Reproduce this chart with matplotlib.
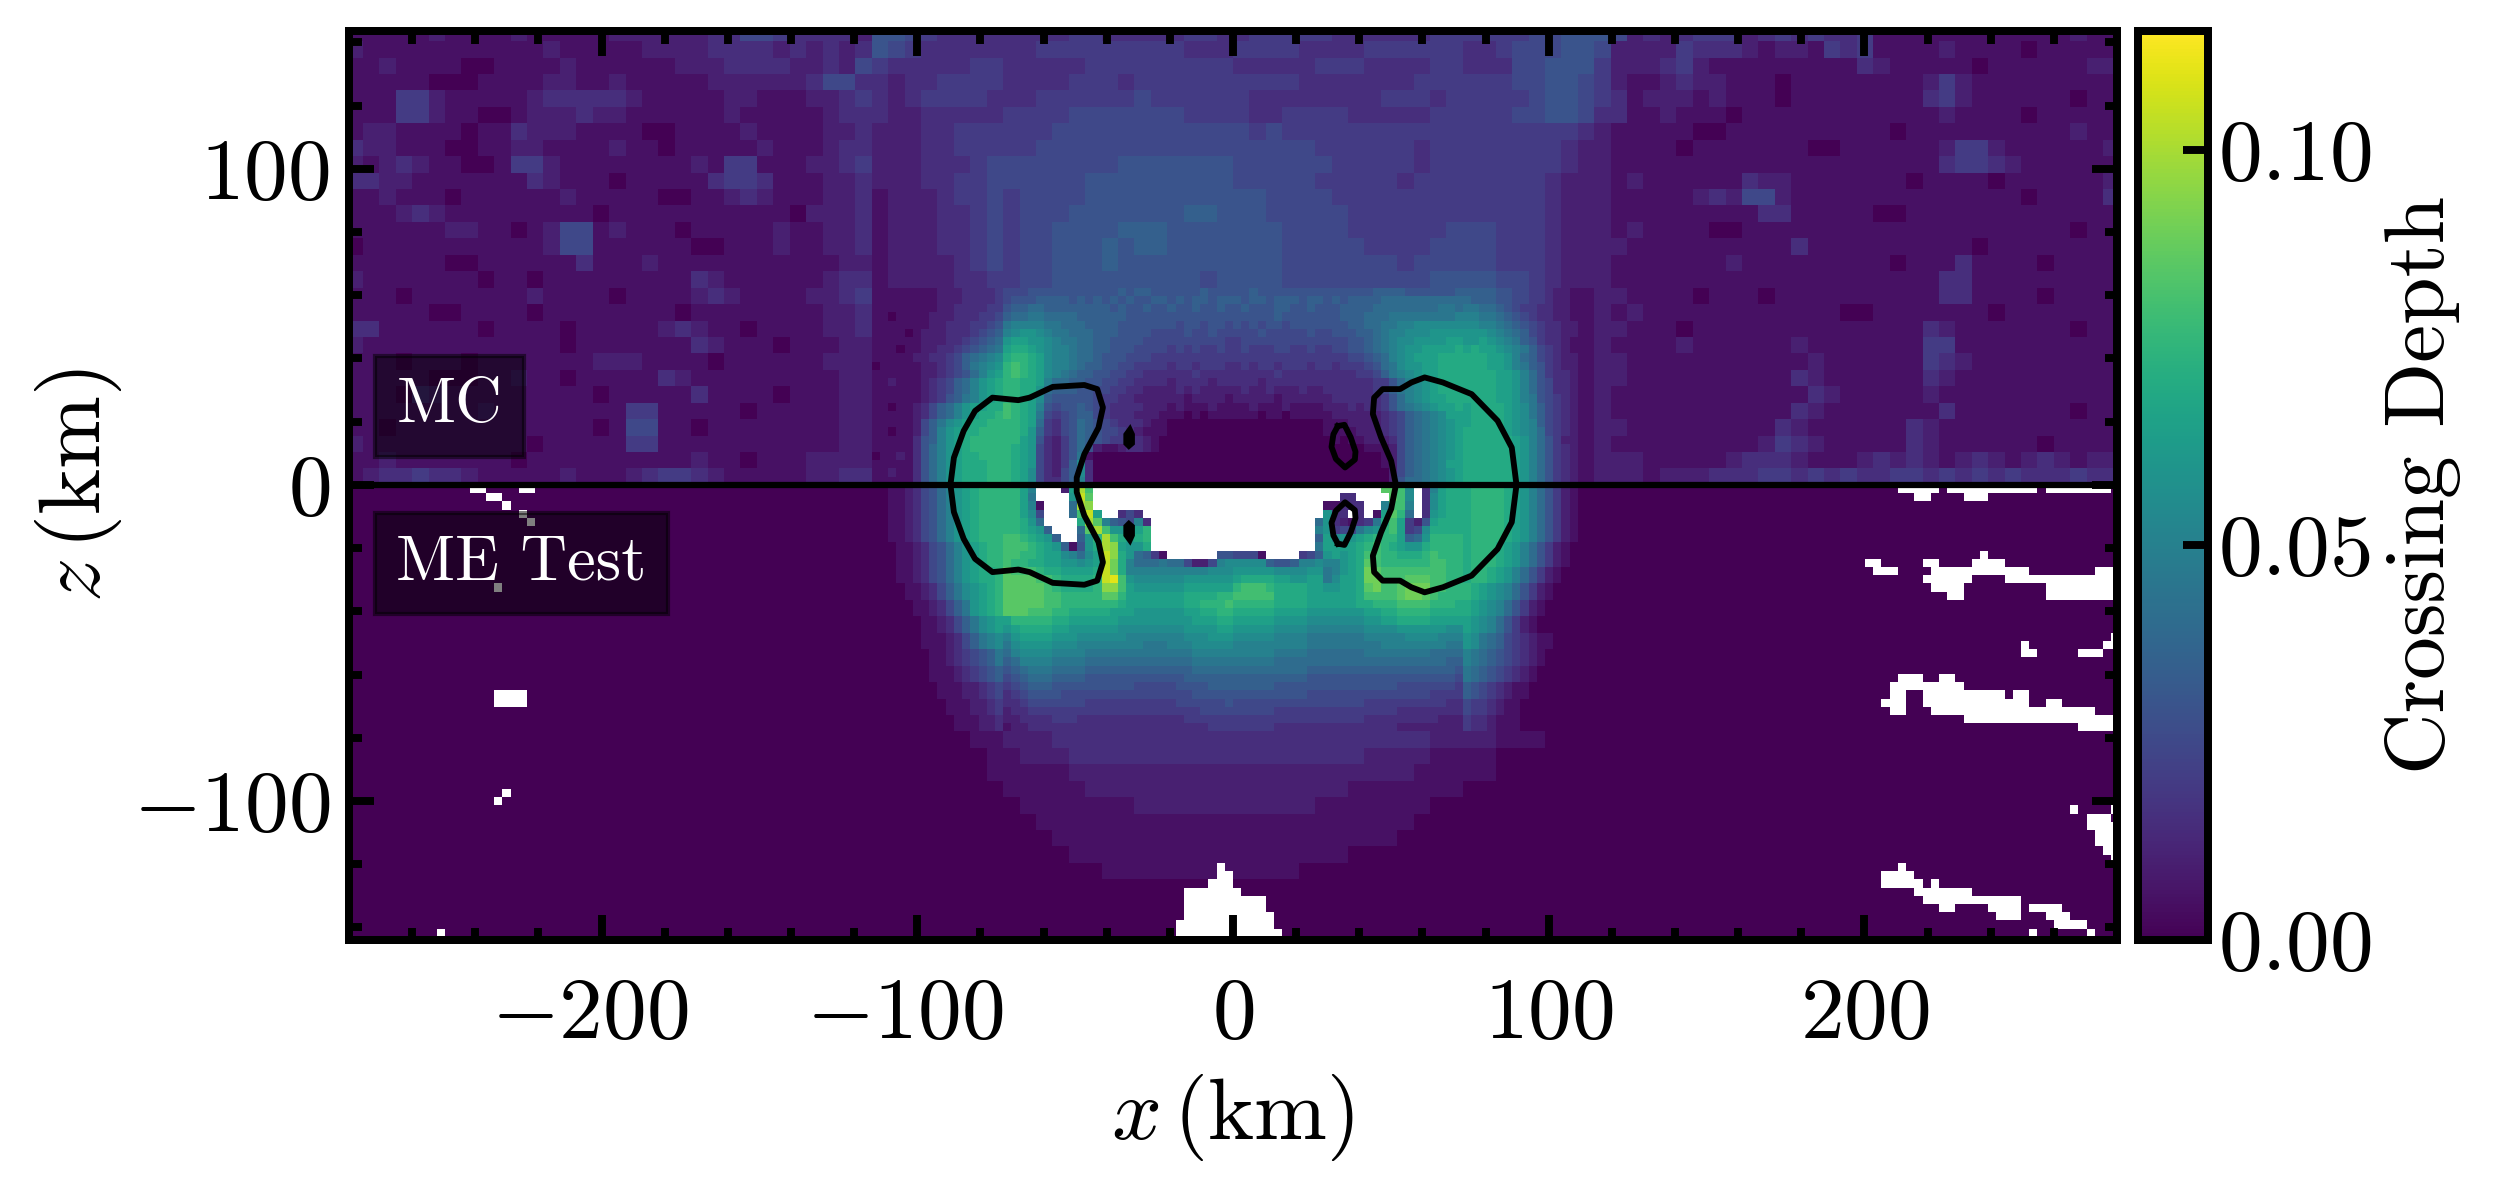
import matplotlib
matplotlib.use("Agg")
import matplotlib.pyplot as plt
from matplotlib.transforms import ScaledTranslation
import numpy as np

plt.rcParams['font.family'] = ['cmr10', 'DejaVu Sans']
plt.rcParams['mathtext.fontset'] = 'cm'
plt.rcParams['axes.unicode_minus'] = False

# tick labels
x_ticks = [-200, -100, 0, 100, 200]
x_tick_labels = [r"$-200$", r"$-100$", r"$0$", r"$100$", r"$200$"]
z_ticks = [-100, 0, 100]
z_tick_labels = [r"$-100$", r"$0$", r"$100$"]
cbar_ticks = [0.0, 0.05, 0.10]
cbar_tick_labels = [r"$0.00$", r"$0.05$", r"$0.10$"]

# one character per cell: step of 0.005 per level, '.' = no data
LEVELS = "0123456789abcdefghijklmn"
LEVEL_STEP = 0.005

# MC half, 2x2 cell blocks, top row first: (left, middle, right)
mc_blocks = [
    ("11111211" "11211111" "22222233" "55433332", "66543333" "33334433" "33344334" "44443333" "33444444" "5566", "65232344" "42343433" "41111111" "11111211"),
    ("21111111" "11112111" "11222233" "33232323", "65433333" "33444444" "44433344" "44333344" "44443345" "5566", "52222433" "32122143" "41111211" "11011111"),
    ("11211110" "01111211" "11112223" "33322325", "43333344" "33333444" "44444433" "33344433" "33443335" "5666", "42223421" "11111111" "32111110" "11111122"),
    ("11111000" "11112211" "21111122" "22223553", "32334444" "33334443" "44444444" "44333333" "34444445" "5665", "42112322" "11101111" "11112421" "11111111"),
    ("11144211" "11123333" "32111112" "21112234", "32344443" "33444444" "54444443" "33333334" "44344444" "5665", "43122212" "11101111" "11113421" "11111011"),
    ("11144211" "00122232" "21111112" "11111233", "32233333" "44445555" "55544443" "34444333" "33444445" "5665", "33112111" "01111111" "11111211" "11011111"),
    ("12211110" "11322211" "11001111" "21111223", "22233444" "44455555" "55555554" "54444444" "44444444" "4443", "21111100" "11111111" "11011111" "11111211"),
    ("32211100" "11221111" "21101111" "12111233", "22233444" "44555555" "55555555" "55544444" "43444444" "4432", "21111011" "11111001" "11111244" "21111112"),
    ("21232110" "01442111" "11111214" "41112234", "22233345" "55555556" "66666655" "55554444" "43444444" "4432", "21111111" "11111111" "11111344" "32111111"),
    ("33221111" "11132111" "01111134" "43111223", "22233445" "55555666" "66666655" "55544444" "34444444" "4322", "21211111" "13221111" "11101111" "01111112"),
    ("11211101" "11111211" "11100112" "32111223", "12223445" "45555666" "66666666" "55554444" "44444444" "4322", "21111123" "25521111" "11111111" "11011113"),
    ("11123211" "11111110" "11111111" "11102223", "12223345" "45556666" "66677666" "55555444" "44444444" "4322", "21111111" "11331111" "10011111" "11111111"),
    ("11111122" "11012551" "21110111" "11211223", "12223345" "45566667" "77666666" "65555444" "44455544" "4322", "21211110" "01111111" "11111111" "11111011"),
    ("01111111" "11112551" "11111001" "11211223", "12223345" "45566676" "77666666" "65555544" "44555544" "4322", "22111111" "11113111" "11111110" "11111111"),
    ("11111100" "11111131" "11211111" "11111122", "12222345" "45566676" "66666666" "65555555" "45555544" "4322", "21111111" "21111111" "11011131" "11101111"),
    ("21111111" "01101111" "11111321" "11111233", "12222334" "45566666" "66665666" "65555555" "55666655" "4322", "21111111" "11111111" "11111331" "11111111"),
    ("11101111" "11121111" "01111232" "11112234", "", "22111101" "11011111" "11111331" "11101111"),
    ("11111001" "11101111" "11110111" "11111223", "", "21211111" "11111110" "01111111" "01111111"),
    ("33111111" "01111011" "11123211" "01111223", "", "22111011" "11111111" "11113211" "11111011"),
    ("21111111" "11111011" "11111321" "11011122", "", "21111211" "11112111" "11114411" "11111111"),
    ("11101110" "11111112" "22111101" "11111222", "", "22111111" "11111211" "11114321" "11111111"),
    ("11111000" "11211011" "11132111" "11111122", "", "22111111" "11113211" "11113211" "11111111"),
    ("11103211" "11111110" "11111311" "11011122", "", "21111111" "11111321" "11112111" "11111111"),
    ("11111111" "21111111" "14411111" "01111122", "", "21111111" "11113211" "11111311" "11111011"),
    ("11011111" "11111110" "15511011" "11111122", "", "22111111" "11132111" "11132111" "11111111"),
    ("21111111" "11101111" "14411111" "11111122", "", "21111111" "11243211" "11132111" "11101111"),
    ("11211111" "11011111" "11111211" "01112222", "", "22211111" "23332111" "23232123" "21232122"),
    ("12334332" "11111211" "12344321" "11112233", "", "22212223" "33443434" "33443434" "34333433"),
]

# MC core, single cells, row just above z=0 first: (outer left, inner left, inner right, outer right)
mc_core = [
    ("11111368acdeeeff", "fedb53357a3" + "0"*17, "0"*19 + "26889abcd", "eeeeeedca8643211"),
    ("11211368acdeeeff", "fedb53257b3" + "0"*17, "0"*19 + "25789abcd", "eeeeeedca8643211"),
    ("11111368acdeeeff", "fedc53247b3" + "0"*17, "0"*18 + "125789abdd", "eeeeeedca8643211"),
    ("01121368acdeefff", "fedc5324691" + "0"*17, "0"*18 + "125789abcd", "eeeeeedca8643211"),
    ("11111368acdeffff", "fedc5324686" "21123321" + "0"*9, "0"*16 + "11125789abcd", "eeeeeedca8643211"),
    ("11111367acdeffff", "ffdc6324687" "65444321" + "0"*9, "0"*12 + "101122235789abcd", "eeeeeedca8642211"),
    ("11011257acdeefff", "ffec7435687" "65543211" "1" + "0"*8, "0"*11 + "1111222345789abcd", "eeeeedcba8543211"),
    ("111112579bcdeeff", "ffed8435687" "65433321" "1" + "0"*8, "0"*11 + "1112222345789abcd", "deeeedcba7543211"),
    ("1111123578acdeef", "gfed9545677" "54333222" "111010111", "11101101111" "1222222345789abdd", "deeeedcb97543211"),
    ("1101123578acddee", "gfeda656676" "54333322" "212111211", "11211121111" "22232334689abcdde", "deeeedcb97543211"),
    ("111111234679acde", "ffedb766666" "54433222" "222122221", "22222122222" "2333333468abcddee", "eeeeddca96543211"),
    ("111111234578acde", "ffeec877766" "55443322" "223232222", "23223222322" "3333334579abcdeee", "eeeeddca86533211"),
    ("112111234578acde", "ffeeda88776" "65544333" "323333233", "33323333333" "3333334468abcdeee", "eeeeddca86533211"),
    ("1111112234568acd", "fgfedba9877" "66554433" "333343333", "33333433333" "333344579abcddeee", "eeeeddca86433211"),
    ("0111112234579abc", "fgfedbaa987" "76655444" "434434443", "34344344434" "434445689bccddeee", "eeeddca976432211"),
    ("11111223345789ab", "effedbaa988" "76665554" "444444444", "44444444444" "44455678abcdddeee", "eeeddca875432211"),
    ("1110112233456789", "deedcbaa988" "77666555" "545454454", "45444554454" "45566789abccdddde", "deddcba975432111"),
    ("1111112223345678", "cddccba9988" "77666655" "555555554", "45555555555" "55566789abbccccdd", "ccdcba9764332111"),
    ("1111012223334567", "abccba99888" "77766665" "555655655", "55565555565" "56667789aabbbcccc", "cccba98754332211"),
    ("1111111223334456", "9aaaa998887" "77766666" "665665665", "65656656666" "666778899aabbbbbb", "bbaa987654332211"),
    ("1101111222333445", "78899888877" "77776666" "666666666", "66666766666" "6677788899999999a", "aa99876543322111"),
    ("1111111122333344", "67788777777" "77676676" "676676676", "67666776676" "66777788888888998", "9988765443322111"),
    ("1111111122233334", "56667777676" "76767667" "767677677", "76776777677" "67677778888888888", "8777665544322111"),
    ("1111111122233334", "55566666666" "66676776" "666667666", "66766666666" "66666677776666667", "7777665544322111"),
]

# ME Test core, single cells, row just below z=0 first
me_core = [
    ("001123568acdefff", "ffda...2dkg" + "."*17, "."*18 + "hhgb.3adee", "effffedca8642100"),
    ("001123568acdefff", "ffd9....clh" + "."*17, "."*13 + "33....hgb.3bdee", "effffedca8642100"),
    ("001123568acdefff", "ffda1...8kj" + "."*17, "..........." "11333..agga.3bdee", "effffedca8642100"),
    ("001123568acdefff", "ffdb5...8gld..353" + "."*11, "..........." "c33.3.1dhf8.3cdee", "effffedca8642100"),
    ("001123568acdefff", "ffec8....ekha765a3" + "."*10, ".........." "8c321349egd426deee", "effffedca8642100"),
    ("001123568acdefff", "ffedc7...8hkgccddf" + "."*10, ".........." "ac4559bcfgd45beeee", "effffedca8642100"),
    ("001123568acdefff", "ggfedc7..7cfkgedef" + "."*10, ".........." "7dbccdefffd78cffff", "effffedca8642100"),
    ("0001123568acdeff", "gggfedc716cekjdcce" + "."*10, ".........." "9ddddefgfedcceffff", "efffedca86421000"),
    ("0001123568acdeff", "ggffeddba8bdljec8741......66", "5551....457cdcdeggffeeefgfff", "efffedca86421000"),
    ("0001123568acdeff", "gffeeddccbcdliea8889885225ab", "bbbb7667aabaacdehgffffffggff", "efffedca86421000"),
    ("0001123568acdeef", "hgggfeeddddelieaaaaaaaaaabbb", "cccccbbbbcc9acdeihggggggggff", "effedca864210000"),
    ("0001123568acdeef", "hhhhggfeeeeflmgcbbbbbbcccccc", "deeeeddccdd9bddeiiggghhhggff", "effedca864210000"),
    ("00001123579bcdef", "hhhhhgfeeeefjjgdccccccdddddd", "fgggfeeeeddccddehigghiiiggff", "fedcba8642100000"),
    ("00001123579bcdef", "hhhhhggfffffhhfdddddddeeeeff", "gggggeeeeddddddeggggh" "iihgfff", "fedcba8642100000"),
    ("000001123579cdef", "hhhhhggfffffffedddddddeefffg", "fffffeeeedddddde" "efffggggfffe", "edcba86421000000"),
    ("000001123579cdef", "hhhgggffeeeeeddd" "cccccc" "ddeeff", "eeeeeddddccccccc" "ddeeffffeeee", "edcba86421000000"),
    ("0000001123579bcd", "dfffffeeddddddcc" "cccccc" "cdddee", "dddddccccbbbbbbb" "ccddeeeedddd", "dcba864210000000"),
    ("0000001123579bcd", "cdeeeeddccccccbb" "bbbbbb" "ccccdd", "cccccbbbbaaaaaaa" "bbbbccccccb", "dcba864210000000"),
    ("00000011123579ab", "acddddcccbbbbbba" "aaaaaa" "bbbccc", "bbbbbaaaa9999999" "aaaaabbbbaaa", "cb98754321100000"),
    ("00000011123579ab", "9bccccbbbaaaaaaa" "a999aa" "abbbbb", "aaaaaaaaa9999999" "99aaaaaaaa99", "cb98754321100000"),
    ("0000000112345679", "8abbbbaaaa999999" "999999" "9aaaaa", "aaaaa99998888888" "999999998888", "a987654321000000"),
    ("0000000112345679", "78aaaa9999888888" "888888" "899999", "9999988888888888" "888888888877", "a987654321000000"),
    ("0000000111234567", "6789998888777777" "777777" "788888", "8888888887777777" "777777777776", "9876543210000000"),
    ("0000000111234567", "5678887777666666" "666666" "777777", "7777777776666666" "666666666665", "9876543210000000"),
    ("0000000011122345", "4567776666666666" "555556" "666777", "7777766666666666" "666655555554", "7654321100000000"),
    ("0000000011122345", "3456666555555555" "555555" "566666", "6666666665555555" "555555554444", "7654321100000000"),
    ("0000000001112234", "3345555555444444" "444445" "555556", "5555555555555555" "444444444433", "5443211000000000"),
    ("0000000001112234", "2334444444444444" "444444" "445555", "5555544444444444" "444433333333", "5443211000000000"),
    ("0000000000111223", "2233334443333333" "333333" "444444", "4444444444444444" "333333333222", "4332111000000000"),
    ("0000000000111223", "1223333333333333" "333333" "333444", "4444433333333333" "333322222222", "4332111000000000"),
]

# ME Test faint glow under the core, 2x2 cell blocks, centred
me_glow = [
    "00000011" "22233333" "33333333" "33333333" "33222211" "1000",
    "00000001" "12223333" "33333333" "33333322" "22111100" "0000",
    "00000001" "11112222" "22222222" "22222222" "21111100" "0000",
    "00000000" "11111222" "22222222" "22222111" "11110000" "0000",
    "00000000" "01111111" "22222222" "22211111" "11000000" "0000",
    "00000000" "00111111" "11111111" "11111111" "10000000" "0000",
    "00000000" "00011111" "11111111" "11111111" "00000000" "0000",
    "00000000" "00001111" "11111111" "11111000" "00000000" "0000",
    "00000000" "00000011" "11111111" "11000000" "00000000" "0000",
]

# ME Test cells without data away from the core: (row, first col, last col), col 0 starts at x=0
me_holes = [
    (0, -93, -92), (0, -87, -86), (1, -91, -90), (2, -89, -89), (3, -87, -87), (4, -86, -86),
    (12, -90, -90), (25, -90, -87), (26, -90, -87), (37, -89, -89), (38, -90, -90),
    (54, -97, -97),
    (46, -2, -2), (47, -2, -1), (48, -3, -1), (49, -6, 0), (50, -6, 3), (51, -6, 3),
    (52, -6, 4), (53, -7, 4), (54, -7, 5), (55, -8, 5),
    (0, 81, 85), (0, 87, 97), (0, 99, 106), (1, 83, 84), (1, 89, 91),
    (8, 91, 91), (9, 77, 78), (9, 84, 85), (9, 90, 93),
    (10, 78, 80), (10, 85, 89), (10, 90, 96), (10, 105, 107),
    (11, 84, 89), (11, 94, 107), (12, 85, 88), (12, 99, 107), (13, 87, 88), (13, 99, 107),
    (18, 107, 107), (19, 96, 96), (19, 106, 107), (20, 96, 97), (20, 103, 105),
    (23, 81, 83), (23, 86, 87), (24, 80, 88), (25, 80, 81), (25, 84, 93), (25, 95, 96),
    (26, 79, 81), (26, 84, 96), (26, 99, 100), (27, 80, 81), (27, 85, 104),
    (28, 89, 107), (29, 103, 107),
    (39, 102, 102), (39, 107, 107), (40, 104, 106), (41, 104, 107), (42, 105, 107),
    (43, 105, 107), (44, 106, 107), (45, 107, 107),
    (46, 81, 81), (47, 79, 82), (48, 79, 83), (48, 85, 85), (49, 83, 89), (50, 84, 95),
    (51, 86, 87), (51, 92, 95), (51, 97, 100), (52, 93, 95), (52, 99, 101),
    (53, 100, 103), (54, 97, 97), (54, 104, 104),
]

# contour outlines, upper half only (the shape is mirrored about z=0)
left_lobe_x = [-89.5, -88.4, -85.3, -81.7, -76.2, -68.0, -64.4, -57.1, -47.1, -43.0, -41.2, -42.6, -47.1, -49.5, -49.5]
left_lobe_z = [0, 8.6, 17.1, 23.4, 27.6, 26.8, 27.6, 31.0, 31.6, 30.3, 24.5, 18.1, 9.7, 2.3, 0]
right_lobe_x = [89.8, 88.3, 83.8, 75.6, 66.5, 60.7, 56.5, 52.9, 47.4, 44.7, 44.3, 46.9, 50.1, 51.6]
right_lobe_z = [0, 11.8, 20.3, 28.7, 32.4, 34.0, 32.4, 30.3, 30.3, 27.6, 22.4, 15.0, 7.6, 0]
ring_x = [33.2, 35.3, 37.3, 38.8, 38.6, 35.5, 32.6, 31.2, 31.8, 33.2]
ring_z = [18.6, 19.0, 15.0, 10.5, 8.0, 5.5, 8.2, 12.0, 16.0, 18.6]
dot_x = [-32.6, -31.6, -31.6, -33.0, -34.2, -34.2, -32.6]
dot_z = [18.2, 16.0, 13.0, 11.8, 13.0, 16.0, 18.2]


def decode(text):
    return [np.nan if c == '.' else LEVEL_STEP * LEVELS.index(c) for c in text]


def fit(text, width):
    return text.ljust(width, text[-1] if text else '0')[:width]


cell = 2.6
half_x = 108
half_z = 56
core_half = 44

upper = np.zeros((half_z, 2 * half_x))
lower = np.zeros((half_z, 2 * half_x))

for k, (left, mid, right) in enumerate(mc_blocks):
    row = decode(fit(left, 32) + fit(mid or '0', 44) + fit(right, 32))
    upper[2 * k:2 * k + 2] = np.repeat(row, 2)

for k, text in enumerate(me_glow):
    row = decode('0' * 32 + fit(text, 44) + '0' * 32)
    lower[30 + 2 * k:32 + 2 * k] = np.repeat(row, 2)

for i, segs in enumerate(mc_core):
    text = fit(segs[0], 16) + fit(segs[1], 28) + fit(segs[2], 28) + fit(segs[3], 16)
    upper[half_z - 1 - i, half_x - core_half:half_x + core_half] = decode(text)

for j, segs in enumerate(me_core):
    text = fit(segs[0], 16) + fit(segs[1], 28) + fit(segs[2], 28) + fit(segs[3], 16)
    lower[j, half_x - core_half:half_x + core_half] = decode(text)

for row, first, last in me_holes:
    lower[row, half_x + first:half_x + last + 1] = np.nan

depth = np.ma.masked_invalid(np.vstack([upper, lower]))
x_edges = cell * np.arange(-half_x, half_x + 1)
z_edges = cell * np.arange(half_z, -half_z - 1, -1)

W, H = 2502, 1192
fig = plt.figure(figsize=(W / 300, H / 300), dpi=300)
ax = fig.add_axes([349 / W, 1 - 940 / H, 1768 / W, 909 / H])
cax = fig.add_axes([2138 / W, 1 - 940 / H, 70 / W, 909 / H])

mesh = ax.pcolormesh(x_edges, z_edges, depth, cmap='viridis', vmin=0, vmax=0.115,
                     shading='flat', linewidth=0, antialiased=False)

ax.axhline(0, color='k', lw=1.5)
for xs, zs in [(left_lobe_x, left_lobe_z), (right_lobe_x, right_lobe_z)]:
    xs = np.array(xs)
    zs = np.array(zs)
    ax.plot(np.r_[xs, xs[::-1]], np.r_[zs, -zs[::-1]], color='k', lw=1.4)
for sign in [1, -1]:
    ax.plot(ring_x, sign * np.array(ring_z), color='k', lw=1.4)
    ax.fill(dot_x, sign * np.array(dot_z), color='k', lw=0.8)

ax.set_xlim(-280, 280)
ax.set_ylim(-144, 143.6)

ax.set_xticks(x_ticks)
ax.set_xticklabels(x_tick_labels)
ax.set_yticks(z_ticks)
ax.set_yticklabels(z_tick_labels)
ax.set_xticks(np.arange(-260, 261, 20), minor=True)
ax.set_yticks(np.arange(-140, 141, 20), minor=True)
ax.tick_params(which='major', direction='in', length=6, width=1.9, top=True, right=True, labelsize=21)
ax.tick_params(which='minor', direction='in', length=3, width=1.9, top=True, right=True)
ax.tick_params(axis='x', which='major', pad=9)
ax.tick_params(axis='y', which='major', pad=4.5)
for side in ax.spines.values():
    side.set_linewidth(1.92)

# the minus sign pushes the negative x labels off centre
shift_left = ScaledTranslation(-12 / 300, 0, fig.dpi_scale_trans)
for tick_label, value in zip(ax.get_xticklabels(), x_ticks):
    if value < 0:
        tick_label.set_transform(tick_label.get_transform() + shift_left)

ax.set_xlabel(r"$x\,(\mathrm{km})$", fontsize=21, labelpad=4)
ax.set_ylabel(r"$z\,(\mathrm{km})$", fontsize=21, labelpad=2)

box = dict(facecolor='k', edgecolor='k', alpha=0.5, boxstyle='square,pad=0.33')
ax.text(-265, 19.8, "MC", color='w', fontsize=15.5, va='baseline', bbox=box)
ax.text(-265, -29.9, "ME Test", color='w', fontsize=15.5, va='baseline', bbox=box)

cbar = fig.colorbar(mesh, cax=cax)
cbar.set_ticks(cbar_ticks)
cbar.set_ticklabels(cbar_tick_labels)
cbar.ax.tick_params(which='major', direction='in', length=6, width=1.9, labelsize=21, pad=2.5)
cbar.ax.minorticks_off()
cbar.outline.set_linewidth(1.92)
cbar.set_label("Crossing Depth", fontsize=20.5, labelpad=3)

fig.savefig("out.png", dpi=300)
